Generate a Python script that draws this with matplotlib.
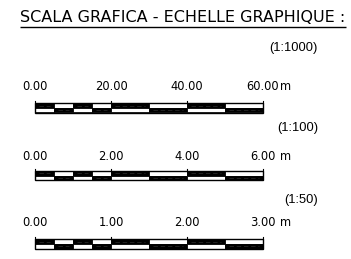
import matplotlib.pyplot as plt
from matplotlib.patches import Rectangle

# scale bars data
titolo = 'SCALA GRAFICA - ECHELLE GRAPHIQUE :'
scale = ['(1:1000)', '(1:100)', '(1:50)']
valori = [[0, 20, 40, 60], [0, 2, 4, 6], [0, 1, 2, 3]]
unita = 'm'
suddivisioni = [4, 2, 2]   # cells per major interval

# layout (pixels, y down)
x0, x1 = 35, 263
y_scala = [47.5, 128, 200]
y_num = [86.5, 156, 222.5]
y_barra = [103.3, 171, 239.3]
h_riga = 4.6
h_tick = 2.0

fig = plt.figure(figsize=(3.51, 2.59), dpi=100)
ax = fig.add_axes([0, 0, 1, 1])
ax.set_xlim(0, 351)
ax.set_ylim(259, 0)
ax.axis('off')

t = ax.text(183, 17.5, titolo, fontsize=11.55, ha='center', va='center',
            family='DejaVu Sans', color='black')
fig.canvas.draw()
bb = t.get_window_extent().transformed(ax.transData.inverted())
ax.plot([bb.x0, bb.x1], [27, 27], color='black', lw=1.0, solid_capstyle='butt')

for s, vals, yl, yn, yb in zip(scale, valori, y_scala, y_num, y_barra):
    ax.text(318, yl, s, fontsize=9.3, ha='right', va='center',
            family='Liberation Sans')
    vmax = vals[-1]
    px = lambda v: x0 + (x1 - x0) * v / vmax
    for v in vals:
        ax.text(px(v), yn, '%.2f' % v, fontsize=8.3, ha='center', va='center',
                family='DejaVu Sans')
        ax.plot([px(v), px(v)], [yb - h_tick, yb], color='black', lw=0.8)
    ax.text(px(vmax) + 23, yn, unita, fontsize=8.3, ha='center', va='center',
            family='DejaVu Sans')
    # cells
    k = 0
    for i in range(len(vals) - 1):
        n = suddivisioni[i]
        step = (vals[i + 1] - vals[i]) / n
        for j in range(n):
            a = px(vals[i] + j * step)
            b = px(vals[i] + (j + 1) * step)
            top = 'black' if k % 2 == 0 else 'white'
            bot = 'white' if k % 2 == 0 else 'black'
            ax.add_patch(Rectangle((a, yb), b - a, h_riga, facecolor=top,
                                   edgecolor='black', lw=0.6))
            ax.add_patch(Rectangle((a, yb + h_riga), b - a, h_riga,
                                   facecolor=bot, edgecolor='black', lw=0.6))
            # faint hatch line inside black cells
            yc = yb + h_riga / 2 if k % 2 == 0 else yb + 1.5 * h_riga
            ax.plot([a + 4, b - 4], [yc, yc], color='#3a3a3a', lw=0.4,
                    ls=(0, (8, 5)))
            k += 1
    ax.add_patch(Rectangle((x0, yb), x1 - x0, 2 * h_riga, facecolor='none',
                           edgecolor='black', lw=1.0))

fig.savefig('out.png', dpi=100)
